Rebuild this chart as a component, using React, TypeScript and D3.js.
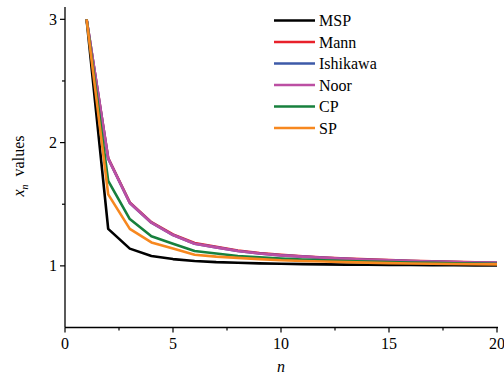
import React from 'react';
import * as d3 from 'd3';

const nValues = d3.range(1, 21);
const seriesNames = ['MSP', 'Mann', 'Ishikawa', 'Noor', 'CP', 'SP'];
const seriesColors = ['#000000', '#e8212b', '#3d5aa8', '#bc4fa3', '#17803d', '#f7881f'];

const msp = [3, 1.30, 1.14, 1.08, 1.055, 1.04, 1.03, 1.025, 1.02, 1.017, 1.014, 1.012, 1.01, 1.009, 1.008, 1.007, 1.006, 1.005, 1.004, 1.004];
const mann = [3, 1.875, 1.515, 1.355, 1.255, 1.185, 1.155, 1.125, 1.105, 1.09, 1.078, 1.068, 1.06, 1.053, 1.047, 1.042, 1.037, 1.032, 1.028, 1.025];
const ishikawa = [3, 1.87, 1.51, 1.35, 1.25, 1.18, 1.15, 1.12, 1.10, 1.085, 1.075, 1.065, 1.057, 1.05, 1.045, 1.04, 1.035, 1.03, 1.027, 1.024];
const noor = [3, 1.87, 1.51, 1.35, 1.25, 1.18, 1.15, 1.12, 1.10, 1.085, 1.075, 1.065, 1.057, 1.05, 1.045, 1.04, 1.035, 1.03, 1.027, 1.024];
const cp = [3, 1.69, 1.38, 1.24, 1.18, 1.12, 1.10, 1.08, 1.07, 1.06, 1.052, 1.045, 1.04, 1.035, 1.03, 1.027, 1.024, 1.021, 1.019, 1.017];
const sp = [3, 1.58, 1.30, 1.19, 1.14, 1.09, 1.075, 1.065, 1.055, 1.045, 1.04, 1.035, 1.03, 1.026, 1.022, 1.019, 1.017, 1.015, 1.013, 1.012];
const seriesData = [msp, mann, ishikawa, noor, cp, sp];

const xTicks = [0, 5, 10, 15, 20];
const xMinor = [2.5, 7.5, 12.5, 17.5];
const yTicks = [1, 2, 3];
const yMinor = [1.5, 2.5];

const FONT = '"Liberation Serif", "Times New Roman", serif';

export default function App() {
  const left = 65, right = 497, top = 7, bottom = 327.5;
  const x = d3.scaleLinear().domain([0, 20]).range([left, right]);
  const y = d3.scaleLinear().domain([0.5, 3.1]).range([bottom, top]);
  const line = d3.line<number>().x((_, i) => x(nValues[i])).y((d) => y(d));

  return (
    <svg width={504} height={377} style={{ position: 'absolute', left: 0, top: 0, background: '#fff' }}>
      {/* lines */}
      {seriesData.map((s, i) => (
        <path key={seriesNames[i]} d={line(s) ?? ''} fill="none" stroke={seriesColors[i]}
          strokeWidth={2.6} strokeLinejoin="round" />
      ))}

      {/* axes */}
      <line x1={left} y1={top} x2={left} y2={bottom} stroke="#000" strokeWidth={1.3} />
      <line x1={left} y1={bottom} x2={right + 1} y2={bottom} stroke="#000" strokeWidth={1.3} />
      {yTicks.map((t) => (
        <g key={t}>
          <line x1={left - 5} x2={left} y1={y(t)} y2={y(t)} stroke="#000" strokeWidth={1.2} />
          <text x={left - 8} y={y(t) + 5.5} textAnchor="end" fontFamily={FONT} fontSize={16}>{t}</text>
        </g>
      ))}
      {yMinor.map((t) => (
        <line key={t} x1={left - 3} x2={left} y1={y(t)} y2={y(t)} stroke="#000" strokeWidth={1.2} />
      ))}
      {xTicks.map((t) => (
        <g key={t}>
          <line x1={x(t)} x2={x(t)} y1={bottom} y2={bottom + 5} stroke="#000" strokeWidth={1.2} />
          <text x={x(t)} y={bottom + 21} textAnchor="middle" fontFamily={FONT} fontSize={16}>{t}</text>
        </g>
      ))}
      {xMinor.map((t) => (
        <line key={t} x1={x(t)} x2={x(t)} y1={bottom} y2={bottom + 3} stroke="#000" strokeWidth={1.2} />
      ))}

      {/* axis titles */}
      <text x={x(10)} y={372} textAnchor="middle" fontFamily={FONT} fontSize={16} fontStyle="italic">n</text>
      <text transform="translate(24,166) rotate(-90)" textAnchor="middle" fontFamily={FONT} fontSize={16}>
        <tspan fontStyle="italic">x</tspan>
        <tspan fontStyle="italic" fontSize={10} dy={4}>n</tspan>
        <tspan dy={-4} dx={8}>values</tspan>
      </text>

      {/* legend */}
      {seriesNames.map((name, i) => {
        const ly = 20.5 + i * 21.5;
        return (
          <g key={name}>
            <line x1={274} x2={315} y1={ly} y2={ly} stroke={seriesColors[i]} strokeWidth={2.6} />
            <text x={319} y={ly + 5.5} fontFamily={FONT} fontSize={16}>{name}</text>
          </g>
        );
      })}
    </svg>
  );
}
